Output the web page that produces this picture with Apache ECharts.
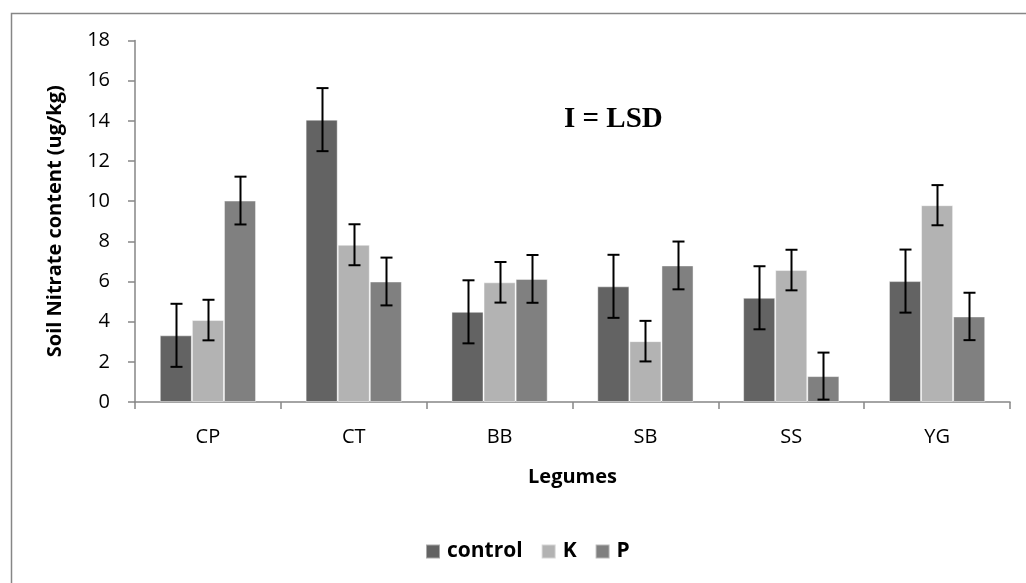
<!DOCTYPE html>
<html><head><meta charset="utf-8">
<script src="https://cdn.jsdelivr.net/npm/echarts@6/dist/echarts.min.js"></script>
<style>html,body{margin:0;padding:0;background:#fff}#c{width:1026px;height:583px}</style>
</head><body><div id="c"></div>
<script>
const categories = ['CP','CT','BB','SB','SS','YG'];
const seriesNames = ['control','K','P'];
const controlValues = [3.32, 14.06, 4.49, 5.76, 5.19, 6.02];
const kValues = [4.08, 7.83, 5.96, 3.03, 6.57, 9.80];
const pValues = [10.03, 6.00, 6.13, 6.80, 1.29, 4.26];
const controlErr = [1.57, 1.57, 1.57, 1.57, 1.57, 1.57];
const kErr = [1.01, 1.02, 1.01, 1.01, 1.01, 1.0];
const pErr = [1.19, 1.19, 1.19, 1.19, 1.17, 1.18];
const yTicks = [0,2,4,6,8,10,12,14,16,18];

const colors = ['#636363','#b3b3b3','#808080'];
const values = [controlValues, kValues, pValues];
const errs = [controlErr, kErr, pErr];
const gapPct = 0.34;
const font = '"Open Sans", sans-serif';

const chart = echarts.init(document.getElementById('c'));
const series = [];
values.forEach((vals, i) => {
  series.push({
    name: seriesNames[i], type: 'bar', data: vals,
    barGap: '0%', barCategoryGap: (gapPct*100)+'%',
    itemStyle: {color: colors[i], borderColor: 'rgba(255,255,255,0.45)', borderWidth: 1},
    z: 2
  });
});
values.forEach((vals, i) => {
  series.push({
    type: 'custom', z: 5, silent: true,
    data: vals.map((v, j) => [j, v, errs[i][j]]),
    renderItem: function (params, api) {
      const c = api.value(0), v = api.value(1), e = api.value(2);
      const band = api.size([1, 0])[0];
      const bw = band * (1 - gapPct) / 3;
      const off = (i - 1) * bw;
      const top = api.coord([c, v + e]);
      const bot = api.coord([c, v - e]);
      const x = Math.round(top[0] + off) + 0.5;
      const cap = 6;
      const st = {stroke: '#000', lineWidth: 2};
      return {type: 'group', children: [
        {type: 'line', shape: {x1: x, y1: top[1], x2: x, y2: bot[1]}, style: st},
        {type: 'line', shape: {x1: x - cap, y1: top[1], x2: x + cap, y2: top[1]}, style: st},
        {type: 'line', shape: {x1: x - cap, y1: bot[1], x2: x + cap, y2: bot[1]}, style: st}
      ]};
    }
  });
});

chart.setOption({
  animation: false,
  backgroundColor: '#fff',
  textStyle: {fontFamily: font},
  grid: {left: 135, right: 16, top: 40.5, bottom: 181, containLabel: false},
  legend: {
    data: seriesNames, top: 536, left: 420,
    icon: 'rect', itemWidth: 14, itemHeight: 14, itemGap: 18,
    textStyle: {fontFamily: font, fontWeight: 'bold', fontSize: 21, color: '#000', padding: [0,0,0,2]}
  },
  xAxis: {
    type: 'category', data: categories,
    name: 'Legumes', nameLocation: 'middle', nameGap: 65,
    nameTextStyle: {fontFamily: font, fontWeight: 'bold', fontSize: 20, color: '#000'},
    axisLine: {lineStyle: {color: '#868686', width: 1.5}},
    axisTick: {show: true, length: 7, lineStyle: {color: '#868686', width: 1.5}},
    axisLabel: {fontFamily: font, fontSize: 20, color: '#000', margin: 25}
  },
  yAxis: {
    type: 'value', min: yTicks[0], max: yTicks[yTicks.length-1], interval: 2,
    name: 'Soil Nitrate content (ug/kg)', nameLocation: 'middle', nameGap: 70,
    nameTextStyle: {fontFamily: font, fontWeight: 'bold', fontSize: 20, color: '#000'},
    axisLine: {show: true, lineStyle: {color: '#868686', width: 1.5}},
    axisTick: {show: true, length: 7, lineStyle: {color: '#868686', width: 1.5}},
    splitLine: {show: false},
    axisLabel: {fontFamily: font, fontSize: 20, color: '#000', margin: 25}
  },
  graphic: [
    {type: 'rect', left: 9, top: 11, z: -1, silent: true,
     shape: {width: 1040, height: 600},
     style: {fill: 'none', stroke: '#868686', lineWidth: 1.5}},
    {type: 'text', left: 564, top: 105, z: 10,
     style: {text: 'I = LSD', font: 'bold 29px "Liberation Serif", serif', fill: '#000'}}
  ],
  series: series
});
</script></body></html>
